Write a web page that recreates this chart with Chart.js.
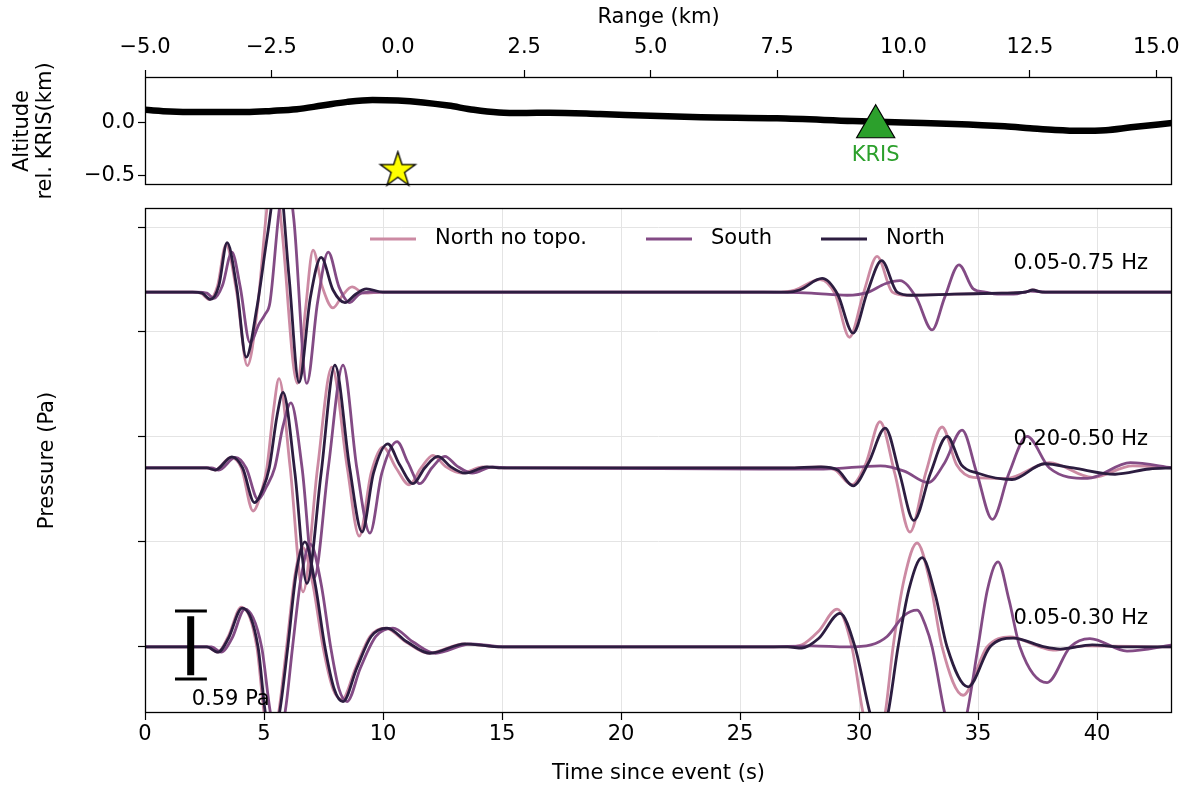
<!DOCTYPE html>
<html>
<head>
<meta charset="utf-8">
<script src="https://cdn.jsdelivr.net/npm/chart.js@4.4.0/dist/chart.umd.min.js"></script>
<style>
  html, body { margin: 0; padding: 0; background: #fff; }
  #wrap { position: relative; width: 1184px; height: 789px; overflow: hidden; }
  #topo { position: absolute; left: 0; top: 0; }
  #wave { position: absolute; left: 0; top: 190px; }
</style>
</head>
<body>
<div id="wrap">
  <canvas id="topo" width="1184" height="200"></canvas>
  <canvas id="wave" width="1184" height="599"></canvas>
</div>
<script>
// ---- tick labels ----
const rangeTicks = [-5, -2.5, 0, 2.5, 5, 7.5, 10, 12.5, 15];
const altTicks = [-0.5, 0];
const timeTicks = [0, 5, 10, 15, 20, 25, 30, 35, 40];
const traceTicks = [0, 1, 2, 3, 4];

// ---- topography (range km, altitude km rel. KRIS) ----
const topoRange = [-5, -4.5, -4, -3, -2.5, -2, -1.5, -1, -0.5, 0, 0.5, 1, 1.5, 2, 2.5, 3, 4, 5, 6, 7.5, 9, 10, 11, 12, 12.5, 13, 13.5, 14, 14.5, 15.31];
const topoAlt = [0.12, 0.105, 0.1, 0.1, 0.11, 0.125, 0.16, 0.195, 0.213, 0.208, 0.19, 0.16, 0.12, 0.095, 0.09, 0.093, 0.08, 0.063, 0.05, 0.04, 0.015, 0.0, -0.013, -0.035, -0.053, -0.07, -0.078, -0.072, -0.045, -0.005];
const sourceRange = [0.0];
const sourceAlt = [-0.45];
const stationRange = [9.45];
const stationAlt = [-0.04];
const stationNames = ['KRIS'];

// ---- waveforms [time s, amplitude] ----
const bandLabels = ['0.05-0.75 Hz', '0.20-0.50 Hz', '0.05-0.30 Hz'];
const bandOffsets = [3.38, 1.705, 0];
const seriesNames = ['North no topo.', 'South', 'North'];

const noTopo_075 = [[0,0],[2.0,0],[2.35,-0.01],[2.7,-0.07],[3.05,0.06],[3.4,0.45],[3.85,0.0],[4.3,-0.70],[4.75,-0.1],[5.1,0.75],[5.4,1.25],[5.75,0.6],[6.4,-0.87],[6.75,-0.15],[7.06,0.40],[7.45,0.05],[7.9,-0.15],[8.3,-0.03],[8.7,0.05],[9.2,-0.01],[10.0,0],[26.5,0],[27.3,0.02],[28.36,0.12],[29.0,-0.02],[29.6,-0.43],[30.2,0.0],[30.76,0.34],[31.4,0.0],[32.0,-0.03],[34.0,-0.02],[36.0,-0.01],[37.0,0.0],[37.3,0.02],[37.7,0.0],[43.2,0]];
const south_075 = [[0,0],[2.2,0],[2.6,-0.01],[2.9,-0.06],[3.25,0.06],[3.65,0.38],[4.0,0.05],[4.41,-0.48],[4.8,-0.3],[5.05,-0.21],[5.25,-0.1],[5.65,0.8],[5.95,1.1],[6.25,0.7],[6.8,-0.87],[7.25,-0.1],[7.7,0.38],[8.15,0.05],[8.6,-0.10],[9.0,-0.02],[9.45,0.0],[10.0,0],[26.0,0],[28.0,-0.01],[29.5,-0.03],[30.4,0.0],[31.1,0.08],[31.72,0.11],[32.4,-0.05],[33.07,-0.36],[33.6,-0.05],[34.2,0.26],[34.8,0.03],[35.3,0.0],[35.8,-0.02],[36.5,-0.02],[37.2,0.01],[38.0,0],[43.2,0]];
const north_075 = [[0,0],[2.0,0],[2.4,-0.01],[2.75,-0.07],[3.1,0.06],[3.45,0.47],[3.85,0.05],[4.25,-0.62],[4.7,-0.15],[5.15,0.55],[5.6,1.15],[6.05,0.15],[6.47,-0.86],[6.95,-0.05],[7.4,0.33],[7.9,0.02],[8.4,-0.10],[8.85,-0.02],[9.3,0.03],[10.0,0],[27.0,0],[27.5,0.02],[28.45,0.13],[29.1,-0.02],[29.75,-0.39],[30.35,0.0],[30.95,0.30],[31.6,0.0],[32.2,-0.03],[34.0,-0.02],[36.0,-0.01],[37.0,0.0],[37.3,0.02],[37.7,0.0],[43.2,0]];

const noTopo_020 = [[0,0],[2.6,0],[2.95,-0.02],[3.6,0.10],[4.05,0.0],[4.54,-0.41],[4.9,-0.22],[5.12,0.0],[5.4,0.55],[5.63,0.85],[6.1,0.0],[6.64,-1.18],[7.25,0.0],[7.85,0.96],[8.5,0.0],[9.0,-0.65],[9.5,-0.05],[10.0,0.20],[10.55,0.0],[11.1,-0.16],[11.6,0.0],[12.1,0.12],[12.65,0.01],[13.3,-0.05],[14.2,0.01],[15.0,0],[27.0,0],[28.3,0.01],[29.0,-0.02],[29.7,-0.16],[30.3,0.05],[30.88,0.44],[31.5,-0.05],[32.14,-0.61],[32.8,-0.05],[33.49,0.39],[34.1,0.03],[34.8,-0.09],[36.2,-0.10],[38.0,0.05],[39.8,-0.09],[41.5,0.02],[43.2,0.0]];
const south_020 = [[0,0],[2.8,0],[3.1,-0.02],[3.8,0.10],[4.25,0.0],[4.75,-0.30],[5.1,-0.18],[5.45,0.0],[5.8,0.4],[6.13,0.62],[6.6,0.0],[7.1,-1.05],[7.7,0.0],[8.32,0.98],[8.9,0.0],[9.45,-0.62],[9.95,-0.05],[10.59,0.25],[11.05,0.05],[11.55,-0.15],[12.05,0.0],[12.6,0.11],[13.1,0.02],[13.75,-0.05],[14.6,0.01],[15.2,0],[26.0,-0.01],[28.5,-0.01],[30.9,0.02],[31.9,-0.03],[32.9,-0.14],[33.6,0.05],[34.33,0.36],[34.95,-0.05],[35.6,-0.49],[36.3,-0.05],[37.06,0.30],[38.0,0.0],[39.6,-0.10],[41.4,0.05],[43.2,0]];
const north_020 = [[0,0],[2.6,0],[2.95,-0.02],[3.65,0.105],[4.1,0.0],[4.6,-0.33],[4.95,-0.2],[5.22,0.0],[5.55,0.5],[5.8,0.72],[6.3,-0.05],[6.8,-1.10],[7.4,-0.05],[7.98,0.98],[8.6,0.0],[9.12,-0.61],[9.6,-0.05],[10.2,0.23],[10.7,0.03],[11.26,-0.15],[11.75,0.0],[12.31,0.11],[12.85,0.01],[13.45,-0.05],[14.37,0.01],[15.0,0],[27.0,0],[28.4,0.01],[29.1,-0.02],[29.75,-0.17],[30.4,0.05],[31.1,0.38],[31.7,-0.05],[32.3,-0.50],[33.0,-0.05],[33.7,0.30],[34.3,0.03],[35.0,-0.05],[36.43,-0.11],[37.8,0.04],[39.0,0.0],[40.76,-0.06],[42.2,-0.01],[43.2,0]];

const noTopo_005 = [[0,0],[2.6,0],[3.05,-0.05],[3.5,0.1],[4.05,0.38],[4.7,0.0],[5.0,-0.62],[5.3,-0.98],[5.62,-0.62],[5.95,0.0],[6.3,0.68],[6.62,0.95],[7.05,0.6],[7.48,0.0],[7.9,-0.4],[8.28,-0.50],[8.85,-0.2],[9.45,0.1],[10.1,0.18],[10.95,0.05],[11.9,-0.06],[13.4,0.03],[15.0,0],[27.0,0],[27.6,0.02],[28.3,0.15],[29.08,0.36],[29.7,0.0],[30.17,-0.63],[30.63,-1.0],[31.1,-0.63],[31.43,0.0],[31.9,0.65],[32.44,0.99],[33.0,0.6],[33.49,0.0],[34.37,-0.46],[35.38,0.0],[36.34,0.095],[37.6,0.0],[38.15,-0.03],[39.5,0.01],[43.2,0]];
const south_005 = [[0,0],[2.8,0],[3.2,-0.05],[3.65,0.08],[4.2,0.36],[4.9,0.0],[5.25,-0.6],[5.55,-0.92],[5.9,-0.6],[6.2,0.0],[6.55,0.65],[6.95,0.98],[7.4,0.6],[7.8,0.0],[8.15,-0.4],[8.49,-0.52],[9.05,-0.2],[9.7,0.1],[10.42,0.18],[11.25,0.05],[12.2,-0.06],[13.7,0.03],[15.2,0],[26.0,0],[28.0,0.01],[29.5,0.0],[30.5,0.02],[31.18,0.1],[31.9,0.3],[32.44,0.35],[32.8,0.2],[33.07,0.0],[33.6,-0.63],[34.07,-1.05],[34.54,-0.63],[35.0,0.0],[35.4,0.55],[35.84,0.81],[36.3,0.45],[36.76,0.0],[37.9,-0.34],[38.87,0.0],[39.7,0.08],[41.26,-0.04],[43.2,0.02]];
const north_005 = [[0,0],[2.6,0],[3.07,-0.05],[3.5,0.08],[4.08,0.37],[4.75,0.0],[5.04,-0.6],[5.34,-0.92],[5.67,-0.6],[6.0,0.0],[6.35,0.7],[6.72,1.0],[7.15,0.6],[7.56,0.0],[7.95,-0.4],[8.32,-0.52],[8.9,-0.2],[9.5,0.1],[10.17,0.18],[11.0,0.05],[11.97,-0.06],[13.45,0.03],[15.0,0],[27.0,0],[27.6,-0.01],[28.3,0.08],[29.2,0.32],[29.83,0.0],[30.46,-0.63],[30.84,-0.92],[31.22,-0.63],[31.64,0.0],[32.1,0.55],[32.65,0.85],[33.2,0.5],[33.7,0.0],[34.58,-0.38],[35.5,0.0],[36.47,0.085],[37.8,0.0],[38.45,-0.02],[39.8,0.02],[41.0,0.0],[43.2,0]];

// scale bar (time s, axis units)
const scaleBarTime = [1.92];
const scaleBarCapTimes = [1.26, 2.6];
const scaleBarEnds = [0.343, -0.305];
const scaleBarLabel = '0.59 Pa';

const colors = ['#cc8aa3', '#834b85', '#2c1d40'];
const FONT = 'DejaVu Sans';

Chart.defaults.font.family = FONT;
Chart.defaults.font.size = 21;
Chart.defaults.color = '#000';

function fmtTick(v) {
  const s = v.toFixed(1);
  return v < 0 ? '\u2212' + s.slice(1) : s;
}

function fixBox(w, h) {
  return s => {
    if (w) s.width = w;
    if (h) s.height = h;
  };
}

function makeStar(R, fill, stroke) {
  const size = Math.ceil(R * 2 + 4);
  const c = document.createElement('canvas');
  c.width = size; c.height = size;
  const g = c.getContext('2d');
  const cx = size / 2, cy = size / 2, r = R * 0.382;
  g.beginPath();
  for (let i = 0; i < 10; i++) {
    const a = -Math.PI / 2 + i * Math.PI / 5;
    const rr = i % 2 ? r : R;
    g.lineTo(cx + rr * Math.cos(a), cy + rr * Math.sin(a));
  }
  g.closePath();
  g.fillStyle = fill; g.fill();
  g.lineWidth = 1.3; g.strokeStyle = stroke; g.stroke();
  return c;
}

const framePlugin = {
  id: 'frame',
  afterDraw(chart) {
    const { ctx, chartArea: a } = chart;
    ctx.save();
    ctx.strokeStyle = '#000';
    ctx.lineWidth = 1.3;
    ctx.strokeRect(Math.round(a.left) + 0.5, Math.round(a.top) + 0.5, Math.round(a.right - a.left) - 1, Math.round(a.bottom - a.top) - 1);
    ctx.restore();
  }
};

// ---------- top panel: topography ----------
const topoTextPlugin = {
  id: 'topoText',
  afterDatasetsDraw(chart) {
    const { ctx, chartArea: a, scales: { x, y } } = chart;
    ctx.save();
    ctx.font = '21px ' + FONT;
    ctx.textBaseline = 'middle';
    ctx.fillStyle = '#000';
    ctx.textAlign = 'center';
    rangeTicks.forEach(v => ctx.fillText(fmtTick(v), x.getPixelForValue(v), a.top - 29));
    ctx.textAlign = 'right';
    altTicks.forEach(v => ctx.fillText(fmtTick(v), a.left - 10, y.getPixelForValue(v)));
    ctx.fillStyle = '#2ca02c';
    ctx.textAlign = 'center';
    stationNames.forEach((n, i) => {
      ctx.fillText(n, x.getPixelForValue(stationRange[i]), y.getPixelForValue(stationAlt[i]) + 29);
    });
    ctx.restore();
  }
};

new Chart(document.getElementById('topo'), {
  type: 'line',
  data: {
    datasets: [
      {
        data: sourceRange.map((r, i) => ({ x: r, y: sourceAlt[i] })),
        showLine: false,
        pointStyle: makeStar(18.5, '#ffff00', '#000'),
        pointRadius: 18,
        clip: false,
        order: 0
      },
      {
        data: stationRange.map((r, i) => ({ x: r, y: stationAlt[i] })),
        showLine: false,
        pointStyle: 'triangle',
        pointRadius: 22,
        backgroundColor: '#2ca02c',
        borderColor: '#000',
        pointBorderWidth: 1.2,
        clip: false,
        order: 0
      },
      {
        data: topoRange.map((r, i) => ({ x: r, y: topoAlt[i] })),
        borderColor: '#000',
        borderWidth: 6.5,
        pointRadius: 0,
        cubicInterpolationMode: 'monotone',
        order: 1
      }
    ]
  },
  options: {
    responsive: false,
    animation: false,
    devicePixelRatio: 1,
    events: [],
    layout: { autoPadding: false, padding: { left: 0, right: 12, top: 0, bottom: 15 } },
    plugins: { legend: { display: false }, tooltip: { enabled: false } },
    scales: {
      x: {
        type: 'linear',
        position: 'top',
        min: -5,
        max: 15.31,
        afterBuildTicks: s => { s.ticks = rangeTicks.map(v => ({ value: v })); },
        afterFit: fixBox(0, 77),
        ticks: { display: false },
        grid: { drawOnChartArea: false, tickLength: 7, tickColor: '#000', tickWidth: 1.2 },
        border: { display: false },
        title: { display: true, text: 'Range (km)', padding: { top: 5, bottom: 0 } }
      },
      y: {
        type: 'linear',
        min: -0.59,
        max: 0.43,
        afterBuildTicks: s => { s.ticks = altTicks.map(v => ({ value: v })); },
        afterFit: fixBox(145, 0),
        ticks: { display: false },
        grid: { drawOnChartArea: false, tickLength: 7, tickColor: '#000', tickWidth: 1.2 },
        border: { display: false },
        title: { display: true, text: ['Altitude', 'rel. KRIS(km)'], font: { lineHeight: 1.1 }, padding: { top: 11, bottom: 0 } }
      }
    }
  },
  plugins: [framePlugin, topoTextPlugin]
});

// ---------- bottom panel: waveforms ----------
const bands = [
  [noTopo_075, south_075, north_075],
  [noTopo_020, south_020, north_020],
  [noTopo_005, south_005, north_005]
];

const waveSets = [];
bands.forEach((group, b) => {
  group.forEach((series, k) => {
    waveSets.push({
      data: series.map(([t, a]) => ({ x: t, y: a + bandOffsets[b] })),
      borderColor: colors[k],
      borderWidth: 2.8,
      pointRadius: 0,
      cubicInterpolationMode: 'monotone',
      order: 3 - k
    });
  });
});

const barStyle = { borderColor: '#000', pointRadius: 0, tension: 0, borderCapStyle: 'butt', order: 0 };
waveSets.push(Object.assign({ borderWidth: 7, data: [
  { x: scaleBarTime[0], y: scaleBarEnds[0] - 0.05 }, { x: scaleBarTime[0], y: scaleBarEnds[1] + 0.035 }] }, barStyle));
scaleBarEnds.forEach(v => {
  waveSets.push(Object.assign({ borderWidth: 3, data: scaleBarCapTimes.map(t => ({ x: t, y: v })) }, barStyle));
});

const annotationPlugin = {
  id: 'waveText',
  afterDatasetsDraw(chart) {
    const { ctx, chartArea: a, scales: { x, y } } = chart;
    ctx.save();
    ctx.font = '21px ' + FONT;
    ctx.fillStyle = '#000';
    ctx.textBaseline = 'middle';
    // band labels
    ctx.textAlign = 'right';
    bandLabels.forEach((lab, i) => {
      ctx.fillText(lab, x.getPixelForValue(42.14), y.getPixelForValue(bandOffsets[i] + 0.27));
    });
    // scale bar label
    ctx.textAlign = 'left';
    ctx.fillText(scaleBarLabel, x.getPixelForValue(scaleBarTime[0]) + 1, y.getPixelForValue(-0.5));
    // legend inside axes
    const ly = a.top + 31;
    const lx = [370, 646, 821];
    seriesNames.forEach((n, k) => {
      ctx.strokeStyle = colors[k];
      ctx.lineWidth = 3;
      ctx.beginPath();
      ctx.moveTo(lx[k], ly);
      ctx.lineTo(lx[k] + 46, ly);
      ctx.stroke();
      ctx.fillText(n, lx[k] + 65, ly);
    });
    ctx.restore();
  }
};

new Chart(document.getElementById('wave'), {
  type: 'line',
  data: { datasets: waveSets },
  options: {
    responsive: false,
    animation: false,
    devicePixelRatio: 1,
    events: [],
    layout: { autoPadding: false, padding: { left: 0, right: 12, top: 18, bottom: 0 } },
    plugins: { legend: { display: false }, tooltip: { enabled: false } },
    scales: {
      x: {
        type: 'linear',
        min: 0,
        max: 43.15,
        afterBuildTicks: s => { s.ticks = timeTicks.map(v => ({ value: v })); },
        afterFit: fixBox(0, 76),
        ticks: { padding: 2, maxRotation: 0 },
        grid: { color: '#e4e4e4', lineWidth: 1, tickLength: 7, tickColor: '#000', tickWidth: 1.2 },
        border: { display: false },
        title: { display: true, text: 'Time since event (s)', padding: { top: 0, bottom: 3 } }
      },
      y: {
        type: 'linear',
        min: -0.629,
        max: 4.181,
        afterBuildTicks: s => { s.ticks = traceTicks.map(v => ({ value: v })); },
        afterFit: fixBox(145, 0),
        ticks: { callback: () => '' },
        grid: { color: '#e4e4e4', lineWidth: 1, tickLength: 7, tickColor: '#000', tickWidth: 1.2 },
        border: { display: false },
        title: { display: true, text: 'Pressure (Pa)', padding: { top: 35, bottom: 0 } }
      }
    }
  },
  plugins: [framePlugin, annotationPlugin]
});
</script>
</body>
</html>
